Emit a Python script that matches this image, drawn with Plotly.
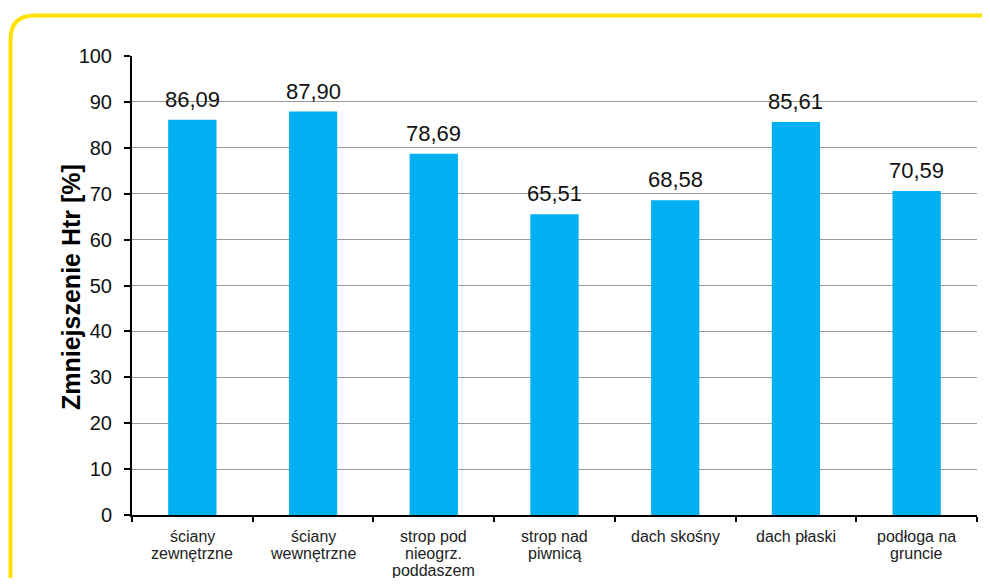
import plotly.graph_objects as go

categories = ["ściany zewnętrzne", "ściany wewnętrzne", "strop pod nieogrz. poddaszem",
              "strop nad piwnicą", "dach skośny", "dach płaski", "podłoga na gruncie"]
category_lines = [["ściany", "zewnętrzne"], ["ściany", "wewnętrzne"], ["strop pod", "nieogrz.", "poddaszem"],
                  ["strop nad", "piwnicą"], ["dach skośny"], ["dach płaski"], ["podłoga na", "gruncie"]]
values = [86.09, 87.90, 78.69, 65.51, 68.58, 85.61, 70.59]
y_title = "Zmniejszenie Htr [%]"
y_ticks = [0, 10, 20, 30, 40, 50, 60, 70, 80, 90, 100]

FONT = "Liberation Sans, Arial, sans-serif"
OFF = 8  # default body margin of the html page
W, H = 990 - 2 * OFF, 586 - 2 * OFF
ML, MT = 132 - OFF, 56 - OFF
MR = W - (977 - OFF)
MB = H - (515 - OFF)
PW, PH = W - ML - MR, H - MT - MB

def fx(px):
    px -= OFF
    return (px - ML) / PW

def fy(py):
    py -= OFF
    return (H - MB - py) / PH

labels = [f"{v:.2f}".replace(".", ",") for v in values]

fig = go.Figure()
fig.add_trace(go.Bar(x=categories, y=values, marker=dict(color="#00B0F0", line=dict(width=0)),
                     hoverinfo="skip"))

for c, v, t in zip(categories, values, labels):
    fig.add_annotation(x=c, y=v, text=t, showarrow=False, yanchor="bottom", yshift=6,
                       font=dict(family=FONT, size=22, color="#111"))

# category labels, one annotation per line for tight line spacing
LINE0, LINE_STEP = 536, 17
for c, lines in zip(categories, category_lines):
    for i, ln in enumerate(lines):
        fig.add_annotation(x=c, xref="x", yref="paper", y=fy(LINE0 + i * LINE_STEP), text=ln,
                           showarrow=False, yanchor="middle", xanchor="center",
                           font=dict(family=FONT, size=16, color="#222"))

fig.add_annotation(xref="paper", yref="paper", x=fx(55), y=fy(287), text=f"<b>{y_title}</b>",
                   textangle=-90, showarrow=False, font=dict(family=FONT, size=25, color="#000"))

# yellow rounded frame (kept inside the figure)
r = 24
x0, y0 = 10.5, 15.5
xr = OFF + W
yb = OFF + H
path = (f"M {fx(xr)} {fy(y0)} L {fx(x0 + r)} {fy(y0)} "
        f"Q {fx(x0)} {fy(y0)} {fx(x0)} {fy(y0 + r)} "
        f"L {fx(x0)} {fy(yb)}")
fig.add_shape(type="path", xref="paper", yref="paper", path=path,
              line=dict(color="#FFE100", width=4), layer="above")

fig.update_layout(
    width=W, height=H, autosize=False,
    margin=dict(l=ML, r=MR, t=MT, b=MB, autoexpand=False),
    paper_bgcolor="white", plot_bgcolor="white",
    bargap=0.6, showlegend=False,
    font=dict(family=FONT, color="#222"),
    xaxis=dict(type="category", automargin=False, showline=True, linecolor="black", linewidth=2,
               ticks="outside", tickson="boundaries", ticklen=5, tickwidth=2, tickcolor="black",
               showticklabels=False, showgrid=False, zeroline=False, fixedrange=True),
    yaxis=dict(range=[0, 100], tickvals=y_ticks, automargin=False, showline=True, linecolor="black",
               linewidth=2, ticks="outside", ticklen=6, tickwidth=2, tickcolor="black",
               ticklabelstandoff=8,
               tickfont=dict(size=20, color="#111"), showgrid=True, gridcolor="#9a9a9a", gridwidth=1,
               zeroline=False, fixedrange=True),
)

fig.write_html("out.html")
